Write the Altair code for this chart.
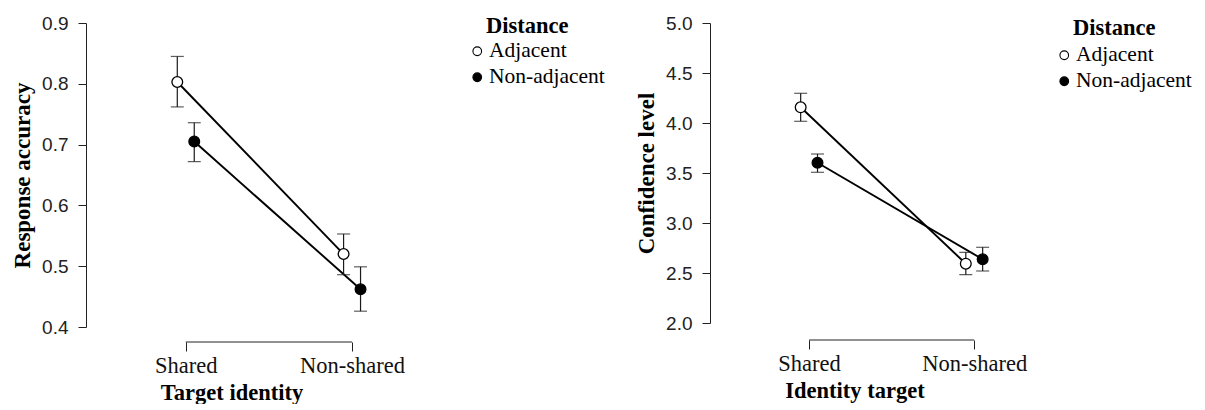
import altair as alt
import pandas as pd

# ---- data ----
targets = ["Shared", "Non-shared"]
distances = ["Adjacent", "Non-adjacent"]

# Left panel: response accuracy (mean, lower, upper) per distance, per target
acc_mean = {"Adjacent": [0.803, 0.520], "Non-adjacent": [0.705, 0.462]}
acc_low = {"Adjacent": [0.762, 0.486], "Non-adjacent": [0.672, 0.426]}
acc_high = {"Adjacent": [0.845, 0.553], "Non-adjacent": [0.736, 0.499]}

# Right panel: confidence level
conf_mean = {"Adjacent": [4.157, 2.593], "Non-adjacent": [3.603, 2.637]}
conf_low = {"Adjacent": [4.017, 2.483], "Non-adjacent": [3.507, 2.520]}
conf_high = {"Adjacent": [4.297, 2.707], "Non-adjacent": [3.690, 2.757]}

acc_ticks = [0.4, 0.5, 0.6, 0.7, 0.8, 0.9]
conf_ticks = [2.0, 2.5, 3.0, 3.5, 4.0, 4.5, 5.0]

DODGE = 0.051
SERIF = "Liberation Serif"
SANS = "Liberation Sans"


def make_df(mean, low, high):
    rows = []
    for d in distances:
        for i, t in enumerate(targets):
            rows.append({"target": t, "tidx": i, "distance": d,
                         "mean": mean[d][i], "lo": low[d][i], "hi": high[d][i]})
    return pd.DataFrame(rows)


def panel(df, ytitle, xtitle, ydomain, yvalues, width, height, axis_off, legx, legy, legtp):
    xscale = alt.Scale(domain=[-0.6, 1.15], nice=False, zero=False)
    xaxis = alt.Axis(values=[0, 1], labelExpr="datum.value == 0 ? 'Shared' : 'Non-shared'",
                     title=xtitle, domain=False, grid=False, offset=axis_off, tickSize=9,
                     tickColor="#222", labelFont=SERIF, labelFontSize=22.5, labelColor="#111",
                     labelPadding=3, titleFont=SERIF, titleFontSize=22.5, titleFontWeight="bold",
                     titleColor="#000", titlePadding=5)
    yscale = alt.Scale(domain=ydomain, nice=False, zero=False)
    yaxis = alt.Axis(values=yvalues, format=".1f", title=ytitle, grid=False,
                     domainColor="#222", tickColor="#222", tickSize=8,
                     labelFont=SANS, labelFontSize=19, labelColor="#222", labelPadding=10,
                     titleFont=SERIF, titleFontSize=23, titleFontWeight="bold",
                     titleColor="#000", titlePadding=7)

    base = alt.Chart(df).transform_calculate(
        xpos=f"datum.tidx + (datum.distance == 'Adjacent' ? -{DODGE} : {DODGE})"
    )
    X = alt.X("xpos:Q", scale=xscale, axis=xaxis)

    lines = base.mark_line(color="#000", strokeWidth=1.9).encode(
        x=X, y=alt.Y("mean:Q", scale=yscale, axis=yaxis), detail="distance:N"
    )
    bars = base.mark_rule(color="#1a1a1a", strokeWidth=1.2).encode(
        x=X, y=alt.Y("lo:Q", scale=yscale, axis=yaxis), y2="hi:Q"
    )
    cap_lo = base.mark_tick(orient="horizontal", size=13, thickness=1.2, color="#1a1a1a").encode(
        x=X, y=alt.Y("lo:Q", scale=yscale, axis=yaxis)
    )
    cap_hi = base.mark_tick(orient="horizontal", size=13, thickness=1.2, color="#1a1a1a").encode(
        x=X, y=alt.Y("hi:Q", scale=yscale, axis=yaxis)
    )
    pts = base.mark_point(filled=True, size=115, stroke="#000", strokeWidth=1.3, opacity=1).encode(
        x=X, y=alt.Y("mean:Q", scale=yscale, axis=yaxis),
        fill=alt.Fill("distance:N", scale=alt.Scale(domain=distances, range=["white", "black"]),
                      legend=alt.Legend(title="Distance", orient="none", legendX=legx, legendY=legy,
                                        titleFont=SERIF, titleFontSize=22.5, titleFontWeight="bold",
                                        titleColor="#000", titleAnchor="start", titlePadding=legtp,
                                        labelFont=SERIF, labelFontSize=21.5, labelColor="#000",
                                        symbolType="circle", symbolSize=75, symbolOffset=-19.5,
                                        symbolStrokeColor="#000", symbolStrokeWidth=1.1,
                                        symbolOpacity=1, rowPadding=3, labelOffset=1))
    )
    bracket_df = pd.DataFrame({"x0": [min(df["tidx"])], "x1": [max(df["tidx"])]})
    bracket = alt.Chart(bracket_df).mark_rule(color="#222", strokeWidth=1).encode(
        x=alt.X("x0:Q", scale=xscale, axis=xaxis), x2="x1:Q", y=alt.value(height + axis_off)
    )
    return alt.layer(bracket, lines, bars, cap_lo, cap_hi, pts).properties(width=width, height=height)


left = panel(make_df(acc_mean, acc_low, acc_high), "Response accuracy", "Target identity",
             [0.4, 0.9], acc_ticks, 291, 304, 15, 400, -8, 3)
right = panel(make_df(conf_mean, conf_low, conf_high), "Confidence level", "Identity target",
              [2.0, 5.0], conf_ticks, 289, 300, 17, 363, -6, 5)

chart = alt.hconcat(left, right, spacing=30).resolve_scale(
    fill="independent", x="independent", y="independent"
).resolve_legend(fill="independent").properties(
    padding={"left": 3, "top": 6, "right": 0, "bottom": 0}, background="white"
).configure_view(stroke=None)

chart.save("out.html", embed_options={"renderer": "svg", "actions": False})
